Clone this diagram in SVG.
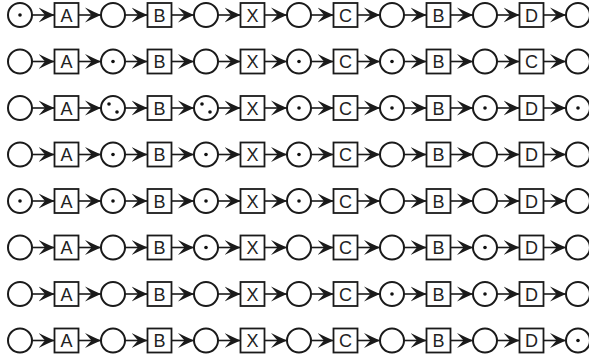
<svg xmlns="http://www.w3.org/2000/svg" xmlns:xlink="http://www.w3.org/1999/xlink" width="589" height="359" viewBox="0 0 589 359">
<style>
.pl{fill:#fff;stroke:#1a1a1a;stroke-width:2}
.tk{fill:#111;stroke:none}
.tr rect{fill:#fff;stroke:#1a1a1a;stroke-width:1.8}
.tr text{font-family:"Liberation Sans",Arial,sans-serif;font-size:18px;fill:#222;text-anchor:middle}
.ar{stroke:#1a1a1a;stroke-width:1.6;fill:none;marker-end:url(#ah)}
</style>
<defs>
<marker id="ah" markerUnits="userSpaceOnUse" viewBox="0 0 16 16" refX="16" refY="8" markerWidth="16" markerHeight="16" orient="auto">
<path d="M0,0.5 Q9,5 16,8 Q9,11 0,15.5 L6.5,8 Z" fill="#1a1a1a"/>
</marker>
<g id="rowArrows">
<line class="ar" x1="32" y1="0" x2="54.5" y2="0"/>
<line class="ar" x1="78.5" y1="0" x2="101" y2="0"/>
<line class="ar" x1="125" y1="0" x2="147.5" y2="0"/>
<line class="ar" x1="171.5" y1="0" x2="194" y2="0"/>
<line class="ar" x1="218" y1="0" x2="240.5" y2="0"/>
<line class="ar" x1="264.5" y1="0" x2="287" y2="0"/>
<line class="ar" x1="311" y1="0" x2="333.5" y2="0"/>
<line class="ar" x1="357.5" y1="0" x2="380" y2="0"/>
<line class="ar" x1="404" y1="0" x2="426.5" y2="0"/>
<line class="ar" x1="450.5" y1="0" x2="473" y2="0"/>
<line class="ar" x1="497" y1="0" x2="519.5" y2="0"/>
<line class="ar" x1="543.5" y1="0" x2="566" y2="0"/>
</g>
</defs>
<g id="connectors">
<use xlink:href="#rowArrows" href="#rowArrows" y="15"/>
<use xlink:href="#rowArrows" href="#rowArrows" y="61.5"/>
<use xlink:href="#rowArrows" href="#rowArrows" y="108"/>
<use xlink:href="#rowArrows" href="#rowArrows" y="154.5"/>
<use xlink:href="#rowArrows" href="#rowArrows" y="201"/>
<use xlink:href="#rowArrows" href="#rowArrows" y="247.5"/>
<use xlink:href="#rowArrows" href="#rowArrows" y="294"/>
<use xlink:href="#rowArrows" href="#rowArrows" y="340.5"/>
</g>

<g id="row1" transform="translate(0,15)">
<g id="r1p1"><circle class="pl" cx="20" cy="0" r="12"/><circle class="tk" cx="20" cy="0" r="1.8"/></g>
<g id="r1tA" class="tr"><rect x="54.5" y="-12" width="24" height="24"/><text x="66.5" y="6.5">A</text></g>
<g id="r1p2"><circle class="pl" cx="113" cy="0" r="12"/></g>
<g id="r1tB" class="tr"><rect x="147.5" y="-12" width="24" height="24"/><text x="159.5" y="6.5">B</text></g>
<g id="r1p3"><circle class="pl" cx="206" cy="0" r="12"/></g>
<g id="r1tX" class="tr"><rect x="240.5" y="-12" width="24" height="24"/><text x="252.5" y="6.5">X</text></g>
<g id="r1p4"><circle class="pl" cx="299" cy="0" r="12"/></g>
<g id="r1tC" class="tr"><rect x="333.5" y="-12" width="24" height="24"/><text x="345.5" y="6.5">C</text></g>
<g id="r1p5"><circle class="pl" cx="392" cy="0" r="12"/></g>
<g id="r1tB2" class="tr"><rect x="426.5" y="-12" width="24" height="24"/><text x="438.5" y="6.5">B</text></g>
<g id="r1p6"><circle class="pl" cx="485" cy="0" r="12"/></g>
<g id="r1tD" class="tr"><rect x="519.5" y="-12" width="24" height="24"/><text x="531.5" y="6.5">D</text></g>
<g id="r1p7"><circle class="pl" cx="578" cy="0" r="12"/></g>
</g>

<g id="row2" transform="translate(0,61.5)">
<g id="r2p1"><circle class="pl" cx="20" cy="0" r="12"/></g>
<g id="r2tA" class="tr"><rect x="54.5" y="-12" width="24" height="24"/><text x="66.5" y="6.5">A</text></g>
<g id="r2p2"><circle class="pl" cx="113" cy="0" r="12"/><circle class="tk" cx="113" cy="0" r="1.8"/></g>
<g id="r2tB" class="tr"><rect x="147.5" y="-12" width="24" height="24"/><text x="159.5" y="6.5">B</text></g>
<g id="r2p3"><circle class="pl" cx="206" cy="0" r="12"/></g>
<g id="r2tX" class="tr"><rect x="240.5" y="-12" width="24" height="24"/><text x="252.5" y="6.5">X</text></g>
<g id="r2p4"><circle class="pl" cx="299" cy="0" r="12"/><circle class="tk" cx="299" cy="0" r="1.8"/></g>
<g id="r2tC" class="tr"><rect x="333.5" y="-12" width="24" height="24"/><text x="345.5" y="6.5">C</text></g>
<g id="r2p5"><circle class="pl" cx="392" cy="0" r="12"/><circle class="tk" cx="392" cy="0" r="1.8"/></g>
<g id="r2tB2" class="tr"><rect x="426.5" y="-12" width="24" height="24"/><text x="438.5" y="6.5">B</text></g>
<g id="r2p6"><circle class="pl" cx="485" cy="0" r="12"/></g>
<g id="r2tC2" class="tr"><rect x="519.5" y="-12" width="24" height="24"/><text x="531.5" y="6.5">C</text></g>
<g id="r2p7"><circle class="pl" cx="578" cy="0" r="12"/></g>
</g>

<g id="row3" transform="translate(0,108)">
<g id="r3p1"><circle class="pl" cx="20" cy="0" r="12"/></g>
<g id="r3tA" class="tr"><rect x="54.5" y="-12" width="24" height="24"/><text x="66.5" y="6.5">A</text></g>
<g id="r3p2"><circle class="pl" cx="113" cy="0" r="12"/><circle class="tk" cx="109" cy="-4" r="1.8"/><circle class="tk" cx="117" cy="4" r="1.8"/></g>
<g id="r3tB" class="tr"><rect x="147.5" y="-12" width="24" height="24"/><text x="159.5" y="6.5">B</text></g>
<g id="r3p3"><circle class="pl" cx="206" cy="0" r="12"/><circle class="tk" cx="202" cy="-4" r="1.8"/><circle class="tk" cx="210" cy="4" r="1.8"/></g>
<g id="r3tX" class="tr"><rect x="240.5" y="-12" width="24" height="24"/><text x="252.5" y="6.5">X</text></g>
<g id="r3p4"><circle class="pl" cx="299" cy="0" r="12"/><circle class="tk" cx="299" cy="0" r="1.8"/></g>
<g id="r3tC" class="tr"><rect x="333.5" y="-12" width="24" height="24"/><text x="345.5" y="6.5">C</text></g>
<g id="r3p5"><circle class="pl" cx="392" cy="0" r="12"/><circle class="tk" cx="392" cy="0" r="1.8"/></g>
<g id="r3tB2" class="tr"><rect x="426.5" y="-12" width="24" height="24"/><text x="438.5" y="6.5">B</text></g>
<g id="r3p6"><circle class="pl" cx="485" cy="0" r="12"/><circle class="tk" cx="485" cy="0" r="1.8"/></g>
<g id="r3tD" class="tr"><rect x="519.5" y="-12" width="24" height="24"/><text x="531.5" y="6.5">D</text></g>
<g id="r3p7"><circle class="pl" cx="578" cy="0" r="12"/><circle class="tk" cx="578" cy="0" r="1.8"/></g>
</g>

<g id="row4" transform="translate(0,154.5)">
<g id="r4p1"><circle class="pl" cx="20" cy="0" r="12"/></g>
<g id="r4tA" class="tr"><rect x="54.5" y="-12" width="24" height="24"/><text x="66.5" y="6.5">A</text></g>
<g id="r4p2"><circle class="pl" cx="113" cy="0" r="12"/><circle class="tk" cx="113" cy="0" r="1.8"/></g>
<g id="r4tB" class="tr"><rect x="147.5" y="-12" width="24" height="24"/><text x="159.5" y="6.5">B</text></g>
<g id="r4p3"><circle class="pl" cx="206" cy="0" r="12"/><circle class="tk" cx="206" cy="0" r="1.8"/></g>
<g id="r4tX" class="tr"><rect x="240.5" y="-12" width="24" height="24"/><text x="252.5" y="6.5">X</text></g>
<g id="r4p4"><circle class="pl" cx="299" cy="0" r="12"/><circle class="tk" cx="299" cy="0" r="1.8"/></g>
<g id="r4tC" class="tr"><rect x="333.5" y="-12" width="24" height="24"/><text x="345.5" y="6.5">C</text></g>
<g id="r4p5"><circle class="pl" cx="392" cy="0" r="12"/></g>
<g id="r4tB2" class="tr"><rect x="426.5" y="-12" width="24" height="24"/><text x="438.5" y="6.5">B</text></g>
<g id="r4p6"><circle class="pl" cx="485" cy="0" r="12"/></g>
<g id="r4tD" class="tr"><rect x="519.5" y="-12" width="24" height="24"/><text x="531.5" y="6.5">D</text></g>
<g id="r4p7"><circle class="pl" cx="578" cy="0" r="12"/></g>
</g>

<g id="row5" transform="translate(0,201)">
<g id="r5p1"><circle class="pl" cx="20" cy="0" r="12"/><circle class="tk" cx="20" cy="0" r="1.8"/></g>
<g id="r5tA" class="tr"><rect x="54.5" y="-12" width="24" height="24"/><text x="66.5" y="6.5">A</text></g>
<g id="r5p2"><circle class="pl" cx="113" cy="0" r="12"/><circle class="tk" cx="113" cy="0" r="1.8"/></g>
<g id="r5tB" class="tr"><rect x="147.5" y="-12" width="24" height="24"/><text x="159.5" y="6.5">B</text></g>
<g id="r5p3"><circle class="pl" cx="206" cy="0" r="12"/><circle class="tk" cx="206" cy="0" r="1.8"/></g>
<g id="r5tX" class="tr"><rect x="240.5" y="-12" width="24" height="24"/><text x="252.5" y="6.5">X</text></g>
<g id="r5p4"><circle class="pl" cx="299" cy="0" r="12"/><circle class="tk" cx="299" cy="0" r="1.8"/></g>
<g id="r5tC" class="tr"><rect x="333.5" y="-12" width="24" height="24"/><text x="345.5" y="6.5">C</text></g>
<g id="r5p5"><circle class="pl" cx="392" cy="0" r="12"/></g>
<g id="r5tB2" class="tr"><rect x="426.5" y="-12" width="24" height="24"/><text x="438.5" y="6.5">B</text></g>
<g id="r5p6"><circle class="pl" cx="485" cy="0" r="12"/></g>
<g id="r5tD" class="tr"><rect x="519.5" y="-12" width="24" height="24"/><text x="531.5" y="6.5">D</text></g>
<g id="r5p7"><circle class="pl" cx="578" cy="0" r="12"/></g>
</g>

<g id="row6" transform="translate(0,247.5)">
<g id="r6p1"><circle class="pl" cx="20" cy="0" r="12"/></g>
<g id="r6tA" class="tr"><rect x="54.5" y="-12" width="24" height="24"/><text x="66.5" y="6.5">A</text></g>
<g id="r6p2"><circle class="pl" cx="113" cy="0" r="12"/></g>
<g id="r6tB" class="tr"><rect x="147.5" y="-12" width="24" height="24"/><text x="159.5" y="6.5">B</text></g>
<g id="r6p3"><circle class="pl" cx="206" cy="0" r="12"/><circle class="tk" cx="206" cy="0" r="1.8"/></g>
<g id="r6tX" class="tr"><rect x="240.5" y="-12" width="24" height="24"/><text x="252.5" y="6.5">X</text></g>
<g id="r6p4"><circle class="pl" cx="299" cy="0" r="12"/></g>
<g id="r6tC" class="tr"><rect x="333.5" y="-12" width="24" height="24"/><text x="345.5" y="6.5">C</text></g>
<g id="r6p5"><circle class="pl" cx="392" cy="0" r="12"/></g>
<g id="r6tB2" class="tr"><rect x="426.5" y="-12" width="24" height="24"/><text x="438.5" y="6.5">B</text></g>
<g id="r6p6"><circle class="pl" cx="485" cy="0" r="12"/><circle class="tk" cx="485" cy="0" r="1.8"/></g>
<g id="r6tD" class="tr"><rect x="519.5" y="-12" width="24" height="24"/><text x="531.5" y="6.5">D</text></g>
<g id="r6p7"><circle class="pl" cx="578" cy="0" r="12"/></g>
</g>

<g id="row7" transform="translate(0,294)">
<g id="r7p1"><circle class="pl" cx="20" cy="0" r="12"/></g>
<g id="r7tA" class="tr"><rect x="54.5" y="-12" width="24" height="24"/><text x="66.5" y="6.5">A</text></g>
<g id="r7p2"><circle class="pl" cx="113" cy="0" r="12"/></g>
<g id="r7tB" class="tr"><rect x="147.5" y="-12" width="24" height="24"/><text x="159.5" y="6.5">B</text></g>
<g id="r7p3"><circle class="pl" cx="206" cy="0" r="12"/></g>
<g id="r7tX" class="tr"><rect x="240.5" y="-12" width="24" height="24"/><text x="252.5" y="6.5">X</text></g>
<g id="r7p4"><circle class="pl" cx="299" cy="0" r="12"/></g>
<g id="r7tC" class="tr"><rect x="333.5" y="-12" width="24" height="24"/><text x="345.5" y="6.5">C</text></g>
<g id="r7p5"><circle class="pl" cx="392" cy="0" r="12"/><circle class="tk" cx="392" cy="0" r="1.8"/></g>
<g id="r7tB2" class="tr"><rect x="426.5" y="-12" width="24" height="24"/><text x="438.5" y="6.5">B</text></g>
<g id="r7p6"><circle class="pl" cx="485" cy="0" r="12"/><circle class="tk" cx="485" cy="0" r="1.8"/></g>
<g id="r7tD" class="tr"><rect x="519.5" y="-12" width="24" height="24"/><text x="531.5" y="6.5">D</text></g>
<g id="r7p7"><circle class="pl" cx="578" cy="0" r="12"/></g>
</g>

<g id="row8" transform="translate(0,340.5)">
<g id="r8p1"><circle class="pl" cx="20" cy="0" r="12"/></g>
<g id="r8tA" class="tr"><rect x="54.5" y="-12" width="24" height="24"/><text x="66.5" y="6.5">A</text></g>
<g id="r8p2"><circle class="pl" cx="113" cy="0" r="12"/></g>
<g id="r8tB" class="tr"><rect x="147.5" y="-12" width="24" height="24"/><text x="159.5" y="6.5">B</text></g>
<g id="r8p3"><circle class="pl" cx="206" cy="0" r="12"/></g>
<g id="r8tX" class="tr"><rect x="240.5" y="-12" width="24" height="24"/><text x="252.5" y="6.5">X</text></g>
<g id="r8p4"><circle class="pl" cx="299" cy="0" r="12"/></g>
<g id="r8tC" class="tr"><rect x="333.5" y="-12" width="24" height="24"/><text x="345.5" y="6.5">C</text></g>
<g id="r8p5"><circle class="pl" cx="392" cy="0" r="12"/></g>
<g id="r8tB2" class="tr"><rect x="426.5" y="-12" width="24" height="24"/><text x="438.5" y="6.5">B</text></g>
<g id="r8p6"><circle class="pl" cx="485" cy="0" r="12"/></g>
<g id="r8tD" class="tr"><rect x="519.5" y="-12" width="24" height="24"/><text x="531.5" y="6.5">D</text></g>
<g id="r8p7"><circle class="pl" cx="578" cy="0" r="12"/><circle class="tk" cx="578" cy="0" r="1.8"/></g>
</g>
</svg>
